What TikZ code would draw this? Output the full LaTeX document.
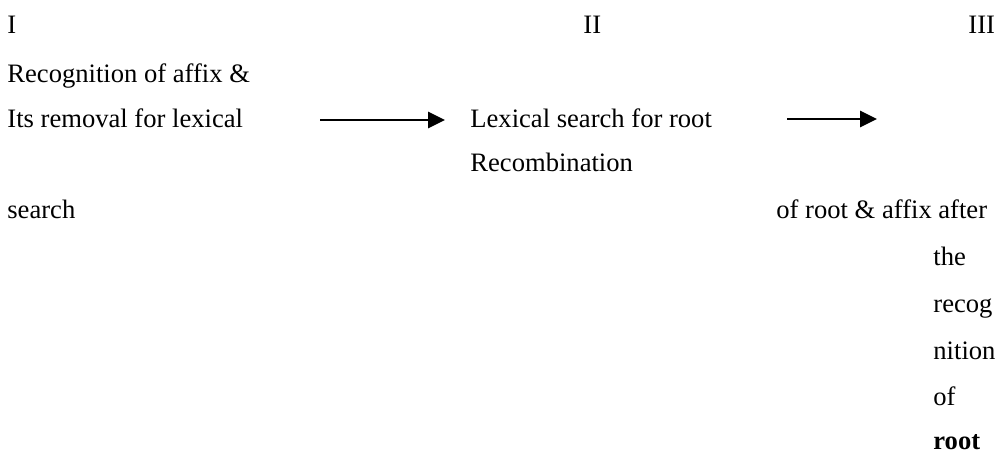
\documentclass[tikz,border=0pt]{standalone}
\usepackage{fontspec}
\setmainfont{Liberation Serif}
\usetikzlibrary{arrows.meta}

\begin{document}
\begin{tikzpicture}[x=0.5pt, y=-0.5pt,
  every node/.style = {anchor=base west, inner sep=0pt,
    font=\fontsize{13.3}{15}\selectfont},
  flow/.style = {line width=1.4pt, -{Triangle[length=8.5pt, width=8pt]}}]
  \useasboundingbox (0,0) rectangle (1001,452);
  % stage numbers
  \node (one) at (7,33) {I};
  \node (two) at (583,33) {II};
  \node (three) at (968,33) {III};
  % stage I
  \node (recog) at (7,82) {Recognition of affix \&};
  \node (removal) at (7,127) {Its removal for lexical};
  \node (search) at (7,218) {search};
  % stage II
  \node (lexical) at (470,127) {Lexical search for root};
  \node (recomb) at (470,171) {Recombination};
  % stage III
  \node (rootaffix) at (776,218) {of root \& affix after};
  \node (the) at (933,265) {the};
  \node (recog2) at (933,312) {recog};
  \node (nition) at (933,359) {nition};
  \node (of) at (933,405) {of};
  \node (root) at (933,449) {\textbf{root}};
  % arrows
  \coordinate (arrAs) at (320,120);
  \coordinate (arrAe) at (445,120);
  \coordinate (arrBs) at (787,119);
  \coordinate (arrBe) at (877,119);
  \draw[flow] (arrAs) -- (arrAe);
  \draw[flow] (arrBs) -- (arrBe);
\end{tikzpicture}
\end{document}
